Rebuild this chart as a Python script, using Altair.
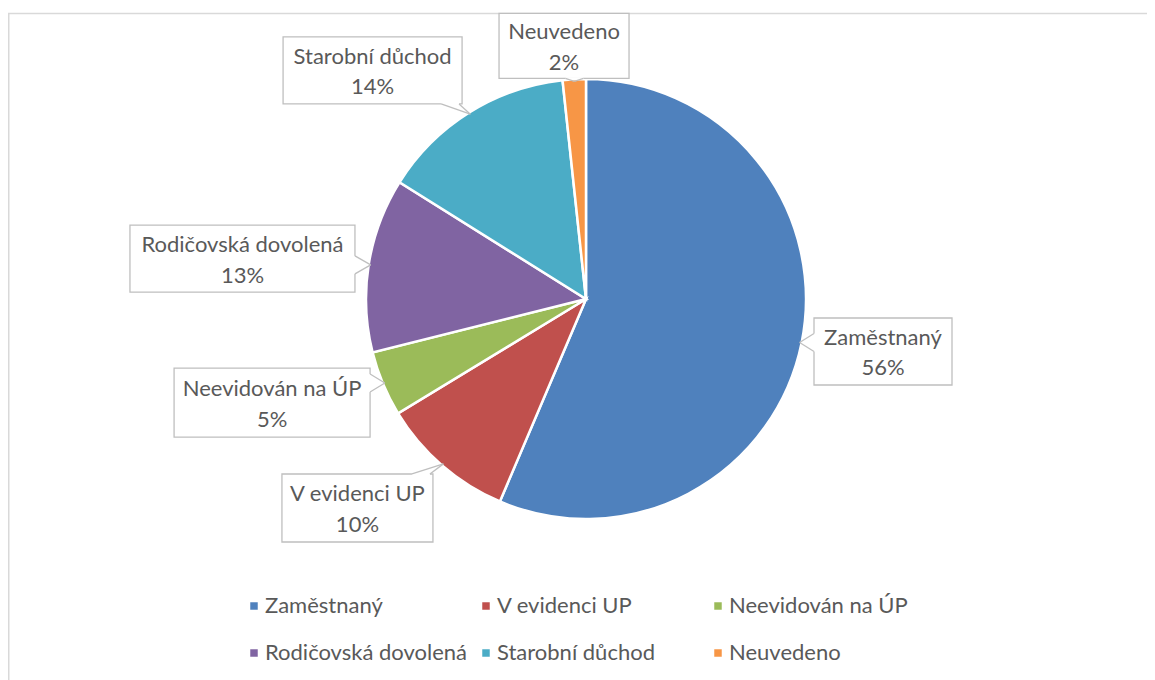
import math
import altair as alt
import pandas as pd

# ---- data ----
categories = ["Zaměstnaný", "V evidenci UP", "Neevidován na ÚP",
              "Rodičovská dovolená", "Starobní důchod", "Neuvedeno"]
shares = [56.4, 9.9, 4.8, 12.8, 14.4, 1.7]
colors = ["#4F81BD", "#C0504D", "#9BBB59", "#8064A2", "#4BACC6", "#F79646"]

# ---- layout ----
W, H = 1139, 672
CX, CY, R = 578, 291, 219
label_radius = [301.6, 309.7, 330.6, 345.9, 312.7, 254.0]
label_shift = [-1.5, 6.7, 4.4, -2.3, -11.0, -1.9]
box_w = [138, 151, 196, 225, 179, 130]
box_h = [67, 68, 69, 67, 67, 65]
pointer_edge = ["L", "T", "R", "R", "B", "B"]
FONT = "Lato"
FS = 22
TXT = "#595959"
BOX = "#BFBFBF"

total = sum(shares)
cum = 0.0
mids = []
for s in shares:
    mids.append((cum + s / 2) / total * 360.0)
    cum += s


def polar(deg, r):
    a = math.radians(deg)
    return CX + r * math.sin(a), CY - r * math.cos(a)


boxes, texts, covers, sides = [], [], [], []
for i, cat in enumerate(categories):
    cx, cy = polar(mids[i] + label_shift[i], label_radius[i])
    x1, x2 = cx - box_w[i] / 2, cx + box_w[i] / 2
    y1, y2 = cy - box_h[i] / 2, cy + box_h[i] / 2
    boxes.append({"x": x1, "x2": x2, "y": y1, "y2": y2})
    texts.append({"x": cx, "y": cy - 6.5, "t": cat})
    texts.append({"x": cx, "y": cy + 24, "t": f"{round(shares[i] / total * 100)}%"})
    tx, ty = polar(mids[i], R - 1)
    e = pointer_edge[i]
    d = 9
    if e in ("L", "R"):
        ex = x1 if e == "L" else x2
        c = min(max(ty, y1 + d + 3), y2 - d - 3)
        b1, b2 = (ex, c - d), (ex, c + d)
    else:
        ey = y1 if e == "T" else y2
        c = min(max(tx, x1 + d + 3), x2 - d - 3)
        b1, b2 = (c - d, ey), (c + d, ey)
    covers.append({"x": b1[0], "y": b1[1], "x2": b2[0], "y2": b2[1]})
    sides.append({"x": b1[0], "y": b1[1], "x2": tx, "y2": ty})
    sides.append({"x": b2[0], "y": b2[1], "x2": tx, "y2": ty})

pie_df = pd.DataFrame({"cat": categories, "share": shares, "order": list(range(len(categories)))})

border = alt.Chart(pd.DataFrame({"a": [0]})).mark_rect(
    fill=None, stroke="#D9D9D9", strokeWidth=1.5
).encode(x=alt.value(0.75), x2=alt.value(W + 20), y=alt.value(5.5), y2=alt.value(H + 20))

pie = alt.Chart(pie_df).mark_arc(outerRadius=R + 1, stroke="white", strokeWidth=2.5).encode(
    theta=alt.Theta("share:Q", stack=True),
    color=alt.Color(
        "cat:N",
        scale=alt.Scale(domain=categories, range=colors),
        sort=categories,
        legend=alt.Legend(
            title=None, orient="none", legendX=235, legendY=587,
            direction="horizontal", columns=3, gridAlign="all",
            symbolType="square", symbolSize=56, symbolStrokeWidth=0,
            labelFont=FONT, labelFontSize=FS, labelColor=TXT, labelOffset=0,
            columnPadding=7, rowPadding=25, padding=0, labelLimit=400,
        ),
    ),
    order=alt.Order("order:Q"),
    x=alt.value(CX), y=alt.value(CY),
)

box_layer = alt.Chart(pd.DataFrame(boxes)).mark_rect(
    fill="white", stroke=BOX, strokeWidth=1.3
).encode(
    x=alt.X("x:Q", scale=None), x2="x2:Q",
    y=alt.Y("y:Q", scale=None), y2="y2:Q",
)

cover_layer = alt.Chart(pd.DataFrame(covers)).mark_rule(color="white", strokeWidth=2.5).encode(
    x=alt.X("x:Q", scale=None), x2="x2:Q",
    y=alt.Y("y:Q", scale=None), y2="y2:Q",
)

side_layer = alt.Chart(pd.DataFrame(sides)).mark_rule(color=BOX, strokeWidth=1.3).encode(
    x=alt.X("x:Q", scale=None), x2="x2:Q",
    y=alt.Y("y:Q", scale=None), y2="y2:Q",
)

text_layer = alt.Chart(pd.DataFrame(texts)).mark_text(
    font=FONT, fontSize=FS, color=TXT, align="center", baseline="alphabetic"
).encode(
    x=alt.X("x:Q", scale=None), y=alt.Y("y:Q", scale=None), text="t:N"
)

chart = alt.layer(border, pie, box_layer, cover_layer, side_layer, text_layer).properties(
    width=W, height=H, autosize=alt.AutoSizeParams(type="none"), padding=0
).configure_view(stroke=None).resolve_scale(color="independent")

chart.save("out.html", embed_options={"renderer": "svg", "actions": False})
